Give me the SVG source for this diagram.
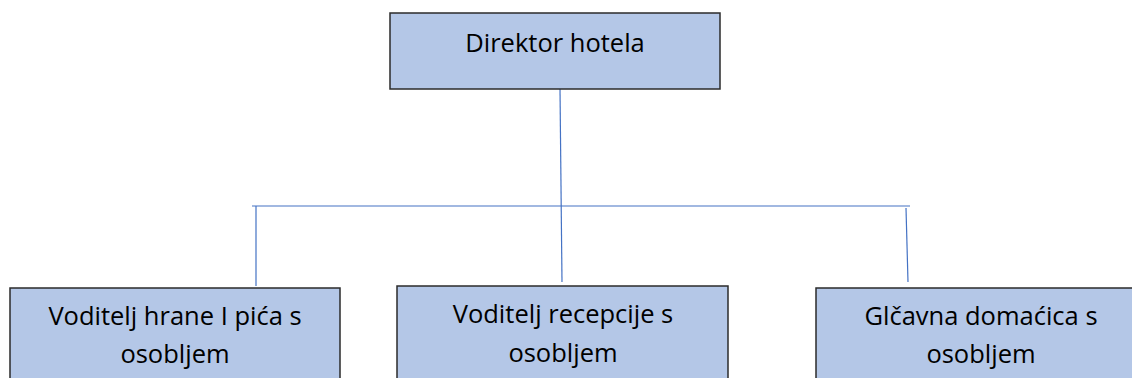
<svg xmlns="http://www.w3.org/2000/svg" width="1132" height="378" viewBox="0 0 1132 378">
<style>
.box{fill:#B4C7E7;stroke:#2B2B2B;stroke-width:1.5}
.t{font-family:"Open Sans","Noto Sans",sans-serif;font-size:25.5px;fill:#000;text-anchor:middle}
.c{stroke:#4472C4;stroke-width:1.2;fill:none}
</style>
<rect width="1132" height="378" fill="#fff"/>
<g id="connectors">
<line class="c" x1="560" y1="89" x2="562" y2="282"/>
<line class="c" x1="252" y1="206" x2="910" y2="206"/>
<line class="c" x1="256" y1="206" x2="256" y2="286"/>
<line class="c" x1="906" y1="208" x2="908" y2="282"/>
</g>
<g id="n0">
<rect class="box" x="390" y="13" width="330" height="76"/>
<text class="t" x="555" y="52">Direktor hotela</text>
</g>
<g id="n1">
<rect class="box" x="10" y="288" width="330" height="100"/>
<text class="t" x="175" y="325">Voditelj hrane I pića s</text>
<text class="t" x="175" y="363">osobljem</text>
</g>
<g id="n2">
<rect class="box" x="397" y="286" width="331" height="100"/>
<text class="t" x="563" y="323">Voditelj recepcije s</text>
<text class="t" x="563" y="362">osobljem</text>
</g>
<g id="n3">
<rect class="box" x="816" y="288" width="330" height="100"/>
<text class="t" x="981" y="325">Glčavna domaćica s</text>
<text class="t" x="981" y="363">osobljem</text>
</g>
</svg>
